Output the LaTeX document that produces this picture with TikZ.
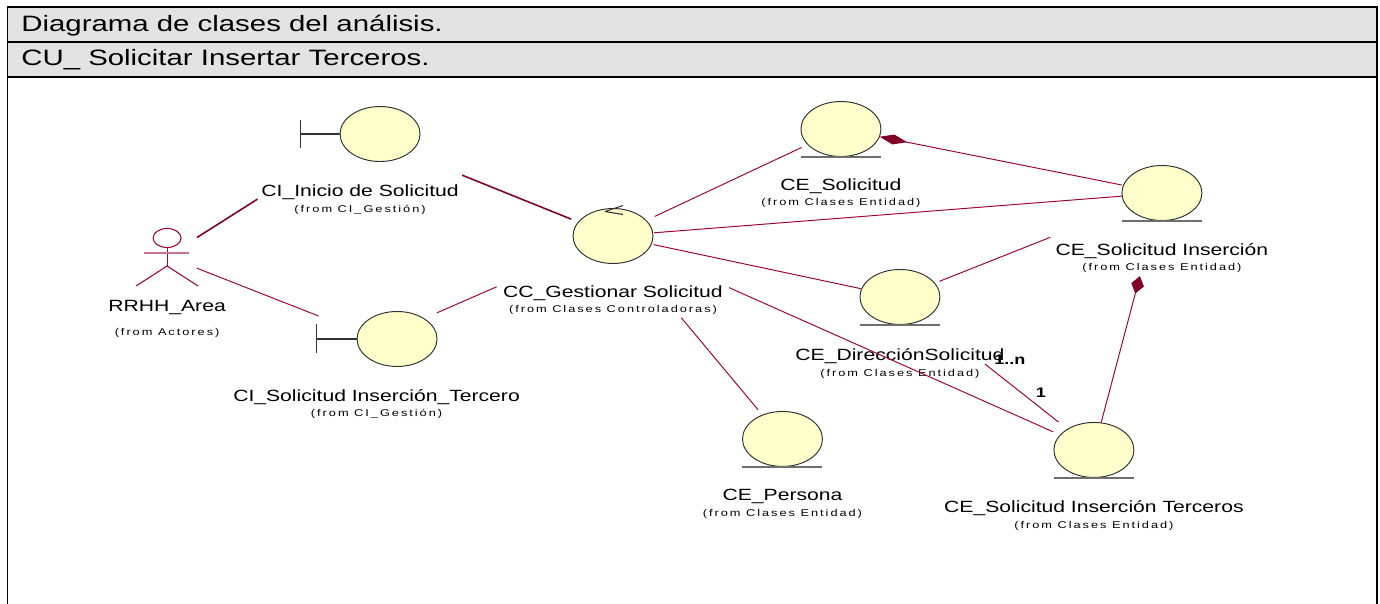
\documentclass[tikz,border=0pt]{standalone}
\usepackage{fontspec}
\setmainfont{Liberation Sans}
\newfontfamily\umlfont[FakeStretch=1.3]{Liberation Sans}
\newfontfamily\fromfont[FakeStretch=1.3,LetterSpace=20]{Liberation Sans}
\newfontfamily\hdrfont[FakeStretch=1.32]{Liberation Sans}
\usepackage{tikz}
\usetikzlibrary{positioning}
\usetikzlibrary{shapes.geometric}
\usetikzlibrary{arrows.meta}
\definecolor{rosefill}{RGB}{255,255,204}
\definecolor{roseline}{RGB}{160,0,58}
\definecolor{rosedark}{RGB}{128,0,40}
\definecolor{hdrgray}{RGB}{227,227,227}
\definecolor{iconline}{RGB}{50,50,50}
\definecolor{ulgray}{RGB}{110,110,110}

\begin{document}
\begin{tikzpicture}[x=0.02cm, y=-0.02cm, on grid,
  icon/.style={ellipse, draw=iconline, line width=0.55pt, fill=rosefill, minimum width=1.6cm, minimum height=1.1cm, inner sep=0pt},
  actor/.style={rectangle, minimum width=1.24cm, minimum height=1.16cm, inner sep=0pt},
  nm/.style={font=\umlfont\fontsize{9.25}{11}\selectfont, inner sep=0pt, text height=6.66pt, text depth=0pt},
  frm/.style={font=\fromfont\fontsize{5.6}{6.8}\selectfont, inner sep=0pt, text height=4.03pt, text depth=0pt},
  mult/.style={font=\umlfont\bfseries\fontsize{7.9}{9}\selectfont, inner sep=0pt, text height=5.7pt, text depth=0pt},
  hdr/.style={font=\hdrfont\fontsize{12.67}{15}\selectfont, inner sep=0pt, anchor=base west},
  assoc/.style={draw=roseline, line width=0.55pt},
  assocb/.style={draw=rosedark, line width=0.9pt},
  actl/.style={draw=roseline, line width=0.6pt},
  tbar/.style={draw=iconline, line width=0.6pt},
  uline/.style={draw=ulgray, line width=0.85pt},
  frame/.style={draw=black, line width=1.13pt}]
\useasboundingbox (0,0) rectangle (1380,604);
\fill[hdrgray] (7.5,7) rectangle (1377,77);
\draw[frame] (7.5,604) -- (7.5,7) -- (1377,7) -- (1377,604);
\draw[frame] (7.5,42) -- (1377,42) (7.5,77) -- (1377,77);
\node[hdr] (title) at (21,32) {Diagrama de clases del análisis.};
\node[hdr] (cu) at (21,66) {CU\_ Solicitar Insertar Terceros.};

\node[icon] (ctl) at (613,236) {};
\node[nm, below=1.12cm of ctl] (ctlN) {CC\_Gestionar Solicitud};
\node[frm, below=0.34cm of ctlN] (ctlF) {(from Clases Controladoras)};
\draw[tbar] ([shift={(-8,3.5)}]ctl.north) -- ++(18,-6) ([shift={(-8,3.5)}]ctl.north) -- ++(18,3);

\node[icon, above left=2.04cm and 4.66cm of ctl] (bIni) {};
\node[nm, below left=1.14cm and 0.4cm of bIni] (bIniN) {CI\_Inicio de Solicitud};
\node[frm, below=0.36cm of bIniN] (bIniF) {(from CI\_Gestión)};
\node[icon, below left=2.06cm and 4.32cm of ctl] (bTer) {};
\node[nm, below left=1.14cm and 0.41cm of bTer] (bTerN) {CI\_Solicitud Inserción\_Tercero};
\node[frm, below=0.34cm of bTerN] (bTerF) {(from CI\_Gestión)};
\draw[tbar] (bIni.west) -- ++(-39,0) ++(0,-14) -- ++(0,28);
\draw[tbar] (bTer.west) -- ++(-40,0) ++(0,-14.5) -- ++(0,29);

\node[actor, below left=0.41cm and 8.92cm of ctl] (act) {};
\node[nm, below=0.99cm of act] (actN) {RRHH\_Area};
\node[frm, below=0.52cm of actN] (actF) {(from Actores)};
\draw[actl] (act.center) ++(0,-18.5) ellipse [x radius=0.28cm, y radius=0.19cm];
\draw[actl] (act.center) ++(0,-9) -- ++(0,18.5);
\draw[actl, draw=roseline!55] (act.center) ++(-23,-3.5) -- ++(45,0);
\draw[actl] (act.center) ++(-31,29.5) -- ++(31,-20) -- ++(31,20);

\node[icon, above right=2.14cm and 4.56cm of ctl] (eSol) {};
\node[nm, below=1.12cm of eSol] (eSolN) {CE\_Solicitud};
\node[frm, below=0.34cm of eSolN] (eSolF) {(from Clases Entidad)};
\node[icon, above right=0.86cm and 10.98cm of ctl] (eIns) {};
\node[nm, below=1.14cm of eIns] (eInsN) {CE\_Solicitud Inserción};
\node[frm, below=0.34cm of eInsN] (eInsF) {(from Clases Entidad)};
\node[icon, below right=1.22cm and 5.74cm of ctl] (eDir) {};
\node[nm, below=1.16cm of eDir] (eDirN) {CE\_DirecciónSolicitud};
\node[frm, below=0.36cm of eDirN] (eDirF) {(from Clases Entidad)};
\node[icon, below right=4.06cm and 3.39cm of ctl] (ePer) {};
\node[nm, below=1.12cm of ePer] (ePerN) {CE\_Persona};
\node[frm, below=0.36cm of ePerN] (ePerF) {(from Clases Entidad)};
\node[icon, below right=4.28cm and 9.62cm of ctl] (eTer) {};
\node[nm, below=1.14cm of eTer] (eTerN) {CE\_Solicitud Inserción Terceros};
\node[frm, below=0.36cm of eTerN] (eTerF) {(from Clases Entidad)};
\foreach \e in {eSol,eIns,eDir,ePer,eTer}
  \draw[uline] ([xshift=-0.8cm]\e.south) -- ([xshift=0.8cm]\e.south);

\draw[assocb, shorten <=0.71cm, shorten >=2.43cm] (act.center) -- ([xshift=-0.4cm]bIni.center);
\draw[assoc, shorten <=0.64cm, shorten >=1.26cm] (act.center) -- ([xshift=-0.4cm]bTer.center);
\draw[assocb, shorten <=2.2cm, shorten >=0.9cm] ([xshift=-0.4cm]bIni.center) -- (ctl.center);
\draw[assoc, shorten <=1.31cm, shorten >=2.54cm] ([xshift=-0.4cm]bTer.center) -- (ctl.center);
\draw[assoc, shorten <=0.92cm, shorten >=0.87cm] (ctl.center) -- (eSol.center);
\draw[assoc, shorten <=0.82cm, shorten >=0.8cm] (ctl.center) -- (eIns.center);
\draw[assoc, shorten <=0.83cm, shorten >=0.8cm] (ctl.center) -- (eDir.center);
\draw[assoc, shorten <=2.54cm, shorten >=0.89cm] (ctl.center) -- (eTer.center);
\draw[assoc, shorten <=2.13cm, shorten >=0.76cm] (ctl.center) -- (ePer.center);
\draw[assoc, shorten <=0.85cm, shorten >=2.4cm] (eDir.center) -- (eIns.center);
\draw[assoc, shorten <=0.82cm, shorten >=0.79cm, -{Diamond[length=0.56cm, width=0.2cm, fill=rosedark, color=rosedark]}] (eIns.center) -- (eSol.center);
\draw[assoc, shorten <=0.56cm, shorten >=1.72cm, -{Diamond[length=0.36cm, width=0.26cm, fill=rosedark, color=rosedark]}] (eTer.center) -- (eIns.center);
\draw[assoc, shorten <=2.16cm, shorten >=0.9cm] (eDir.center) -- (eTer.center);
\node[mult, below right=1.26cm and 2.2cm of eDir] (m1n) {1..n};
\node[mult, below right=1.92cm and 2.82cm of eDir] (m1) {1};
\end{tikzpicture}
\end{document}
